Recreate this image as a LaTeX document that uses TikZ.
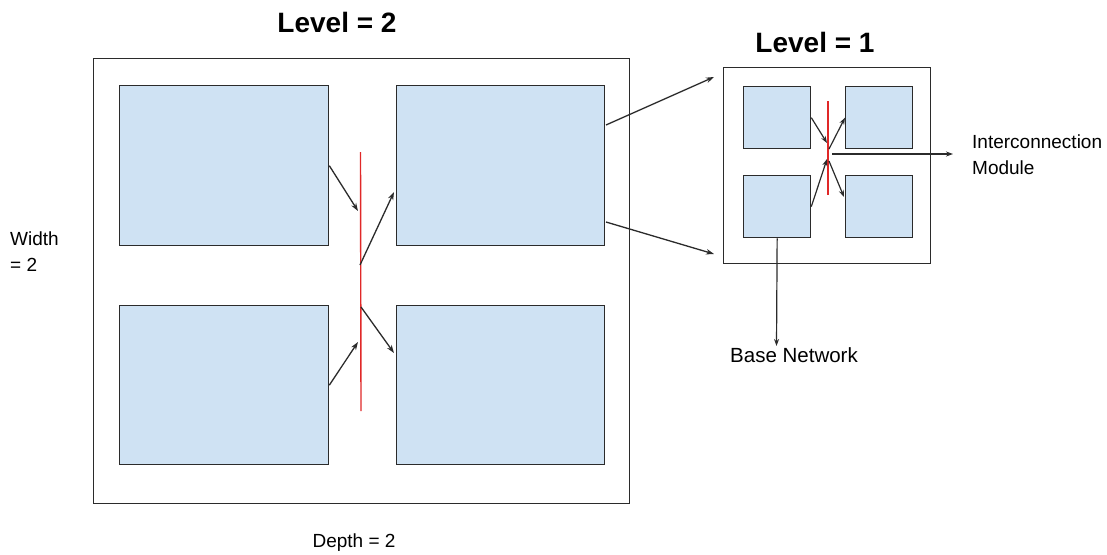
\documentclass[tikz,border=0pt]{standalone}
\usepackage{fontspec}
\setmainfont{Liberation Sans}
\usetikzlibrary{arrows.meta}
\definecolor{boxfill}{HTML}{CFE2F3}
\definecolor{edge}{HTML}{2B2B2B}
\definecolor{bus}{HTML}{E02828}
\tikzset{
  frame/.style={draw=edge, line width=1.4pt, fill=white, inner sep=0pt, anchor=north west},
  block/.style={draw=edge, line width=1.3pt, fill=boxfill, inner sep=0pt, anchor=north west},
  busline/.style={draw=bus, line width=1.4pt},
  link/.style={draw=edge, line width=1.3pt, -{Stealth[length=8pt,width=5.5pt]}},
  slink/.style={draw=edge, line width=1.2pt, -{Stealth[length=7pt,width=5pt]}},
  lbl/.style={inner sep=0pt, text=black, font=\fontsize{19}{26}\selectfont},
  title/.style={inner sep=0pt, text=black, font=\fontsize{28}{32}\selectfont\bfseries}
}
\begin{document}
\begin{tikzpicture}[x=1pt, y=-1pt]
  \useasboundingbox (0,0) rectangle (1107,554);

  % ---- level 2 network ----
  \node[frame, minimum width=536pt, minimum height=445pt] (outer) at (93,58) {};
  \node[block, minimum width=209pt, minimum height=160pt] (tl) at (119,85) {};
  \node[block, minimum width=208pt, minimum height=160pt] (tr) at (396,85) {};
  \node[block, minimum width=209pt, minimum height=159pt] (bl) at (119,305) {};
  \node[block, minimum width=208pt, minimum height=159pt] (br) at (396,305) {};

  % interconnection bus
  \coordinate (busT) at (360.5,152);
  \coordinate (busB) at (361,411);
  \draw[busline] (busT) -- (busB);
  \coordinate (in1) at (358,211);
  \coordinate (out1) at (360,265);
  \coordinate (out2) at (361,307);
  \coordinate (in2) at (358,342);
  \coordinate (trIn) at (394,192);
  \coordinate (brIn) at (394,353);
  \draw[link] (tl.east) -- (in1);
  \draw[link] (out1) -- (trIn);
  \draw[link] (out2) -- (brIn);
  \draw[link] (bl.east) -- (in2);

  % ---- level 1 network ----
  \node[frame, minimum width=207pt, minimum height=196pt] (small) at (723,67) {};
  \node[block, minimum width=67pt, minimum height=62pt] (stl) at (743,86) {};
  \node[block, minimum width=67pt, minimum height=62pt] (str) at (845,86) {};
  \node[block, minimum width=67pt, minimum height=62pt] (sbl) at (743,175) {};
  \node[block, minimum width=67pt, minimum height=62pt] (sbr) at (845,175) {};

  \coordinate (sbusT) at (828,101);
  \coordinate (sbusB) at (828,195);
  \draw[busline, line width=1.5pt] (sbusT) -- (sbusB);
  \coordinate (sin1) at (827,143);
  \coordinate (sout1) at (829,149);
  \coordinate (sout2) at (829,161);
  \coordinate (sin2) at (827,159);
  \coordinate (sbrIn) at (844,197);
  \draw[slink] (stl.east) -- (sin1);
  \draw[slink] (sout1) -- (str.west);
  \draw[slink] (sout2) -- (sbrIn);
  \draw[slink] (sbl.east) -- (sin2);

  % zoom arrows from the level 2 block to its level 1 view
  \coordinate (zA) at (606,125);
  \coordinate (zB) at (606,222);
  \coordinate (zA2) at (714,77);
  \coordinate (zB2) at (714,254);
  \draw[link] (zA) -- (zA2);
  \draw[link] (zB) -- (zB2);

  % ---- labels ----
  \node[title, anchor=base] (lv2) at (337,32) {Level = 2};
  \node[title, anchor=base] (lv1) at (815,52) {Level = 1};
  \node[lbl, anchor=north west, align=left] (width) at (10,232) {Width\\= 2};
  \node[lbl, anchor=base] (depth) at (354,547) {Depth = 2};
  \node[lbl, anchor=north west, align=left] (icm) at (972,135) {Interconnection\\Module};
  \node[lbl, anchor=base, font=\fontsize{20.5}{26}\selectfont] (base) at (794,362) {Base Network};

  \coordinate (icmTip) at (953,154);
  \coordinate (icmStart) at (832,154);
  \draw[slink] (icmStart) -- (icmTip);
  \coordinate (baseTip) at (776.5,346);
  \draw[slink] (sbl.south) -- (baseTip);
\end{tikzpicture}
\end{document}
